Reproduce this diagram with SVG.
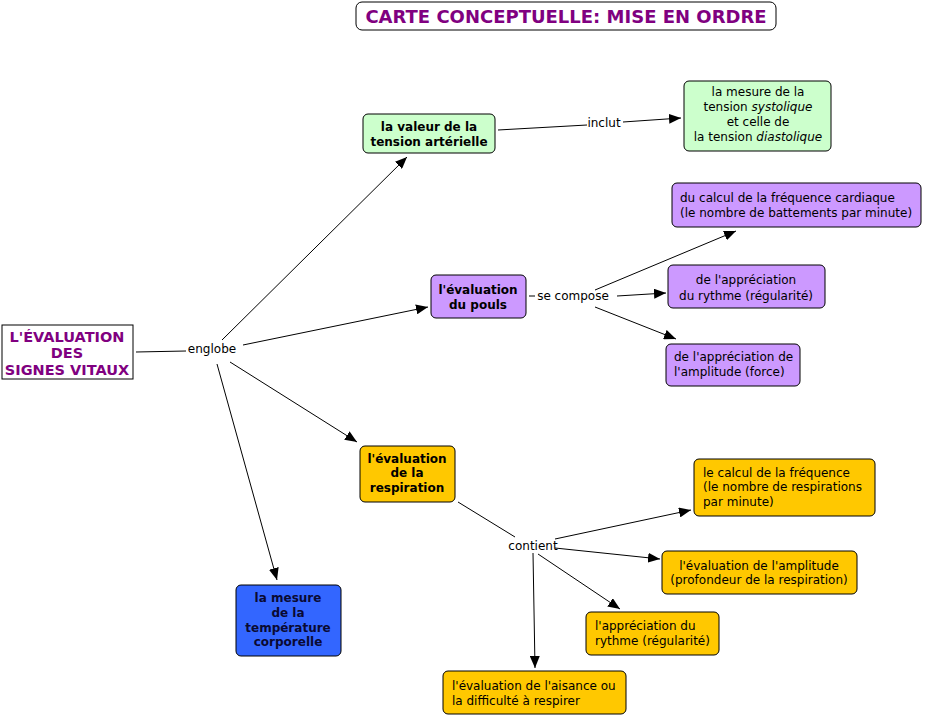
<svg xmlns="http://www.w3.org/2000/svg" width="928" height="720" viewBox="0 0 928 720">
<style>
text{font-family:"DejaVu Sans","Verdana",sans-serif;font-size:12px;fill:#000}
.b{font-weight:bold}
.c{text-anchor:middle}
.t{fill:#800080;font-weight:bold}
.g{fill:#CCFFCC;stroke:#000;stroke-width:1}
.p{fill:#CC99FF;stroke:#000;stroke-width:1}
.o{fill:#FFC800;stroke:#000;stroke-width:1}
.bl{fill:#3366FF;stroke:#000;stroke-width:1}
.lk{fill:none;stroke:#000;stroke-width:1}
.lbl{font-size:12px}
</style>
<defs>
<marker id="ah" viewBox="0 0 12 10" refX="12" refY="5" markerWidth="12" markerHeight="10" markerUnits="userSpaceOnUse" orient="auto">
<path d="M0,0 L12,5 L0,10 z" fill="#000"/>
</marker>
</defs>
<rect width="928" height="720" fill="#fff"/>

<g id="title">
<rect x="356" y="2" width="420" height="28" rx="6" fill="#fff" stroke="#000"/>
<text x="566" y="23" class="t c" style="font-size:18px">CARTE CONCEPTUELLE: MISE EN ORDRE</text>
</g>

<g id="connectors">
<line class="lk" x1="136" y1="352" x2="186" y2="351"/>
<line class="lk" x1="222" y1="340" x2="407" y2="157" marker-end="url(#ah)"/>
<line class="lk" x1="243" y1="345" x2="428" y2="307" marker-end="url(#ah)"/>
<line class="lk" x1="230" y1="362" x2="357" y2="442" marker-end="url(#ah)"/>
<line class="lk" x1="217" y1="364" x2="277" y2="580" marker-end="url(#ah)"/>
<line class="lk" x1="498" y1="130" x2="587" y2="125"/>
<line class="lk" x1="623" y1="122" x2="681" y2="118" marker-end="url(#ah)"/>
<line class="lk" x1="529" y1="296" x2="535" y2="296"/>
<line class="lk" x1="595" y1="290" x2="736" y2="231" marker-end="url(#ah)"/>
<line class="lk" x1="617" y1="296" x2="666" y2="293" marker-end="url(#ah)"/>
<line class="lk" x1="595" y1="307" x2="676" y2="339" marker-end="url(#ah)"/>
<line class="lk" x1="458" y1="502" x2="515" y2="537"/>
<line class="lk" x1="555" y1="539" x2="691" y2="510" marker-end="url(#ah)"/>
<line class="lk" x1="555" y1="548" x2="660" y2="559" marker-end="url(#ah)"/>
<line class="lk" x1="538" y1="554" x2="620" y2="609" marker-end="url(#ah)"/>
<line class="lk" x1="533" y1="553" x2="535" y2="668" marker-end="url(#ah)"/>
<text x="212" y="353" class="c lbl">englobe</text>
<text x="604" y="127" class="c lbl">inclut</text>
<text x="573" y="300" class="c lbl">se compose</text>
<text x="533" y="550" class="c lbl">contient</text>
</g>

<g id="main">
<rect x="2" y="325" width="131" height="54" fill="#fff" stroke="#000"/>
<text class="t c" style="font-size:14.5px"><tspan x="67" y="342">L'ÉVALUATION</tspan><tspan x="67" y="358">DES</tspan><tspan x="67" y="375">SIGNES VITAUX</tspan></text>
</g>

<g id="tension">
<rect class="g" x="363" y="114" width="132" height="39" rx="5"/>
<text class="b c"><tspan x="429" y="131">la valeur de la</tspan><tspan x="429" y="146">tension artérielle</tspan></text>
</g>

<g id="tension-mesure">
<rect class="g" x="684" y="81" width="147" height="70" rx="5"/>
<text class="c"><tspan x="758" y="96">la mesure de la</tspan><tspan x="758" y="111">tension <tspan font-style="italic">systolique</tspan></tspan><tspan x="758" y="126">et celle de</tspan><tspan x="758" y="141">la tension <tspan font-style="italic">diastolique</tspan></tspan></text>
</g>

<g id="pouls">
<rect class="p" x="431" y="275" width="95" height="43" rx="5"/>
<text class="b c"><tspan x="478" y="294">l'évaluation</tspan><tspan x="478" y="309">du pouls</tspan></text>
</g>

<g id="pouls-frequence">
<rect class="p" x="672" y="183" width="249" height="44" rx="5"/>
<text><tspan x="680" y="202">du calcul de la fréquence cardiaque</tspan><tspan x="680" y="217">(le nombre de battements par minute)</tspan></text>
</g>

<g id="pouls-rythme">
<rect class="p" x="668" y="265" width="157" height="43" rx="5"/>
<text class="c"><tspan x="746" y="284">de l'appréciation</tspan><tspan x="746" y="300">du rythme (régularité)</tspan></text>
</g>

<g id="pouls-amplitude">
<rect class="p" x="666" y="344" width="134" height="42" rx="5"/>
<text><tspan x="674" y="361">de l'appréciation de</tspan><tspan x="674" y="376">l'amplitude (force)</tspan></text>
</g>

<g id="respiration">
<rect class="o" x="360" y="446" width="95" height="56" rx="5"/>
<text class="b c"><tspan x="407" y="463">l'évaluation</tspan><tspan x="407" y="477">de la</tspan><tspan x="407" y="492">respiration</tspan></text>
</g>

<g id="resp-frequence">
<rect class="o" x="694" y="459" width="181" height="57" rx="5"/>
<text><tspan x="703" y="477">le calcul de la fréquence</tspan><tspan x="703" y="491">(le nombre de respirations</tspan><tspan x="703" y="506">par minute)</tspan></text>
</g>

<g id="resp-amplitude">
<rect class="o" x="662" y="551" width="195" height="43" rx="5"/>
<text class="c"><tspan x="759" y="570">l'évaluation de l'amplitude</tspan><tspan x="759" y="584">(profondeur de la respiration)</tspan></text>
</g>

<g id="resp-rythme">
<rect class="o" x="586" y="612" width="133" height="43" rx="5"/>
<text><tspan x="595" y="630">l'appréciation du</tspan><tspan x="595" y="645">rythme (régularité)</tspan></text>
</g>

<g id="resp-aisance">
<rect class="o" x="443" y="671" width="183" height="43" rx="5"/>
<text><tspan x="452" y="690">l'évaluation de l'aisance ou</tspan><tspan x="452" y="705">la difficulté à respirer</tspan></text>
</g>

<g id="temperature">
<rect class="bl" x="236" y="585" width="105" height="71" rx="5"/>
<text class="b c" style="fill:#0a0a33"><tspan x="288" y="602">la mesure</tspan><tspan x="288" y="617">de la</tspan><tspan x="288" y="632">température</tspan><tspan x="288" y="646">corporelle</tspan></text>
</g>
</svg>
